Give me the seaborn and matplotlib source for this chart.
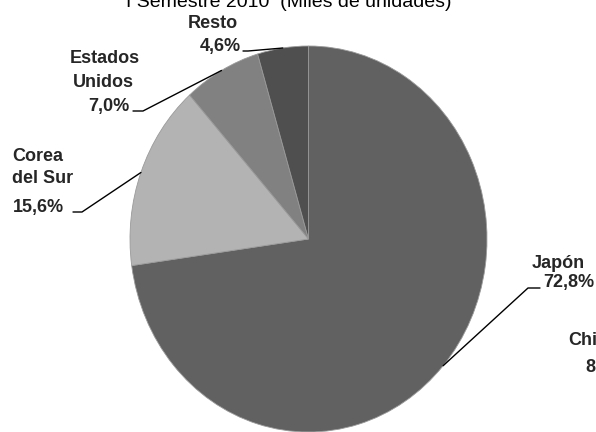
import matplotlib
matplotlib.use("Agg")
import matplotlib.pyplot as plt
from matplotlib.lines import Line2D
import seaborn as sns
import numpy as np

# ---- data ----
title = "I Semestre 2010  (Miles de unidades)"
countries = ["Japón", "Corea del Sur", "Estados Unidos", "Resto"]
name_lines = [["Japón"], ["Corea", "del Sur"], ["Estados", "Unidos"], ["Resto"]]
shares = [72.8, 15.6, 7.0, 4.6]
colors = ["#616161", "#b3b3b3", "#818181", "#4f4f4f"]
# clipped label of a neighbouring chart at the right edge
extra_lines = ["China", "8"]

sns.set_theme(style="white")
plt.rcParams["font.family"] = ["Liberation Sans", "DejaVu Sans"]

W, H = 596, 432
fig = plt.figure(figsize=(W / 100, H / 100), dpi=100)
fig.patch.set_facecolor("white")

def fx(x):
    return x / W

def fy(y):
    return 1 - y / H

# pie box in pixels: left 130, right 487, top 46, bottom 432
ax = fig.add_axes([fx(130), fy(432), (487 - 130) / W, (432 - 46) / H])
wedges, _ = ax.pie(shares, colors=colors, startangle=90, counterclock=False,
                   radius=1, wedgeprops=dict(edgecolor="#9a9a9a", linewidth=0.6))
ax.set_aspect("auto")
ax.set_xlim(-1, 1)
ax.set_ylim(-1, 1)
ax.axis("off")

fig.text(fx(289), fy(7), title, ha="center", va="baseline", fontsize=14, color="black")

def pct(v):
    return f"{v:.1f}".replace(".", ",") + "%"

# layout (pixels): name lines (left x, baseline y), pct (left x, baseline y), leader end, elbow
layout = {
    "Japón": dict(names=[(532, 268)], pct=(543, 287), end=(540, 288), elbow=(528, 288)),
    "Corea del Sur": dict(names=[(12, 161), (12, 183)], pct=(13, 212), end=(73, 212), elbow=(82, 212)),
    "Estados Unidos": dict(names=[(70, 63), (73, 87)], pct=(88, 111), end=(133, 111), elbow=(143, 111)),
    "Resto": dict(names=[(188, 28)], pct=(200, 51), end=(243, 51), elbow=(248, 51)),
}

fig.canvas.draw()
for w, c, lines, v in zip(wedges, countries, name_lines, shares):
    L = layout[c]
    for s, (x, y) in zip(lines, L["names"]):
        fig.text(fx(x), fy(y), s, ha="left", va="baseline", fontsize=13, fontweight="bold")
    px, py = L["pct"]
    fig.text(fx(px), fy(py), pct(v), ha="left", va="baseline", fontsize=13, fontweight="bold")
    th = np.deg2rad((w.theta1 + w.theta2) / 2)
    dx, dy = ax.transData.transform((np.cos(th), np.sin(th)))
    ax_pix = (dx, H - dy)
    xs = [ax_pix[0], L["elbow"][0], L["end"][0]]
    ys = [ax_pix[1], L["elbow"][1], L["end"][1]]
    fig.add_artist(Line2D([fx(x) for x in xs], [fy(y) for y in ys],
                          transform=fig.transFigure, color="black", linewidth=1.0))

fig.text(fx(568), fy(345), extra_lines[0], ha="left", va="baseline", fontsize=13, fontweight="bold")
fig.text(fx(585), fy(372), extra_lines[1], ha="left", va="baseline", fontsize=13, fontweight="bold")

fig.savefig("out.png", dpi=100, facecolor="white")
